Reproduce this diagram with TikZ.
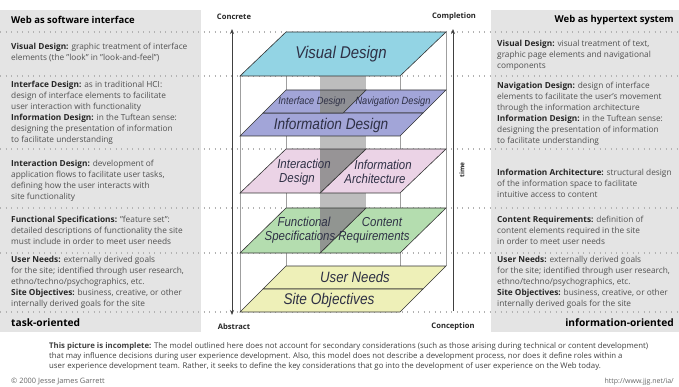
\documentclass[tikz,border=0pt]{standalone}
\usepackage{fontspec}
\setmainfont{Open Sans}
\newfontfamily\layerfont[FakeStretch=0.88]{Liberation Sans}
\usetikzlibrary{arrows.meta,calc,positioning}
\definecolor{panelgray}{HTML}{E4E4E4}
\definecolor{txtgray}{HTML}{505050}
\definecolor{bandgray}{HTML}{BDBDBD}
\definecolor{banddark}{HTML}{8E8E8E}
\definecolor{visblue}{HTML}{93D4E4}
\definecolor{infoblue}{HTML}{A2A5D8}
\definecolor{interpink}{HTML}{EBD3E6}
\definecolor{specgreen}{HTML}{B4DDAF}
\definecolor{needyellow}{HTML}{EEF0B8}
\definecolor{layertext}{HTML}{2E3045}

\begin{document}
\begin{tikzpicture}[x=1pt,y=-1pt,>=Stealth,font=\fontsize{8.3}{11}\selectfont,
  rowsep/.style={gray!60,line width=1.1pt,dash pattern=on 1.1pt off 4.4pt},
  desc/.style={anchor=west,align=left,inner sep=0pt,text=txtgray},
  head/.style={font=\fontsize{9.5}{11}\selectfont\bfseries,inner sep=0pt},
  axislbl/.style={font=\fontsize{7.6}{10}\selectfont\bfseries,inner sep=0pt,text=black!85},
  axisline/.style={black!75,line width=.9pt,arrows={-Stealth[length=5pt,width=4pt]}},
  boxline/.style={gray!75,line width=.9pt},
  tile/.style={draw=black!80,line width=.6pt},
  lbl/.style={font=\layerfont\itshape\fontsize{#1}{14}\selectfont,text=layertext,inner sep=0pt,align=center}]
\useasboundingbox (0,0) rectangle (679,387);
\fill[panelgray] (0,10) rectangle (201,332);
\fill[panelgray] (491,10) rectangle (679,332);
\foreach \y in {32,76,149,208,253,312}
  \draw[rowsep] (0,\y) -- (679,\y);

\fill[bandgray] (320,76) rectangle (366,253);
\draw[boxline] (240,76) -- (240,312);
\draw[boxline] (400,76) -- (400,312);
\draw[boxline] (286,76) -- (286,266);
\draw[boxline] (446,32) -- (446,266);

\filldraw[tile,fill=visblue] (286,32) -- (446,32) -- (400,76) -- (240,76) -- cycle;
\filldraw[tile,fill=infoblue] (366,90) -- (446,90) -- (423,113) -- (343,113) -- cycle;
\filldraw[tile,fill=infoblue] (263,113) -- (423,113) -- (400,136) -- (240,136) -- cycle;
\filldraw[tile,fill=interpink] (366,149) -- (446,149) -- (400,193) -- (320,193) -- cycle;
\filldraw[tile,fill=specgreen] (366,208) -- (446,208) -- (400,253) -- (320,253) -- cycle;
\filldraw[tile,fill=needyellow] (286,266) -- (446,266) -- (423,289) -- (263,289) -- cycle;
\filldraw[tile,fill=needyellow] (263,289) -- (423,289) -- (400,312) -- (240,312) -- cycle;
\foreach \t/\b/\xa/\xb/\c in {90/113/343/263/infoblue,149/193/320/240/interpink,208/253/320/240/specgreen}{
  \fill[\c] (286,\t) -- (366,\t) -- (\xa,\b) -- (\xb,\b) -- cycle;
  \begin{scope}
    \clip (286,\t) -- (366,\t) -- (\xa,\b) -- (\xb,\b) -- cycle;
    \fill[banddark,opacity=.9] (320,\t) rectangle (366,\b);
  \end{scope}
  \draw[tile] (286,\t) -- (366,\t) -- (\xa,\b) -- (\xb,\b) -- cycle;
}

\node[lbl=17] (visual) at (341,54) {Visual Design};
\node[lbl=10.5] (interface) at (312,102) {Interface Design};
\node[lbl=10.5] (navigation) at (393,102) {Navigation Design};
\node[lbl=15.5] (information) at (331,125) {Information Design};
\node[lbl=13] (interaction) at (304,172) {Interaction\\\hspace*{-14pt}Design};
\node[lbl=13] (architecture) at (383,172) {Information\\\hspace*{-16pt}Architecture};
\node[lbl=13] (functional) at (304,230) {Functional\\\hspace*{-8pt}Specifications};
\node[lbl=13] (content) at (382,230) {Content\\\hspace*{-16pt}Requirements};
\node[lbl=15] (needs) at (355,277) {User Needs};
\node[lbl=15.5] (objectives) at (329,300) {Site Objectives};

\node[axislbl] (concrete) at (234,17) {Concrete};
\node[axislbl] (abstract) at (234,327) {Abstract};
\node[axislbl] (completion) at (454,17) {Completion};
\node[axislbl] (conception) at (453,327) {Conception};
\node[axislbl,rotate=90,font=\fontsize{6.5}{8}\selectfont\bfseries] (time) at (462,170) {time};
\coordinate (ltop) at (232,29);
\coordinate (lbot) at (232,315);
\coordinate (rtop) at (453,29);
\coordinate (rbot) at (453,311);
\draw[axisline,arrows={Stealth[length=5pt,width=4pt]-Stealth[length=5pt,width=4pt]}] (ltop) -- (lbot);
\draw[axisline] (rbot) -- (rtop);

\node[head,anchor=west] (software) at (11,20) {Web as software interface};
\node[head,anchor=east] (hypertext) at (674,20) {Web as hypertext system};
\node[head,anchor=west,font=\fontsize{10.2}{11}\selectfont\bfseries] (task) at (11,323) {task-oriented};
\node[head,anchor=east,font=\fontsize{10.2}{11}\selectfont\bfseries] (infoor) at (674,323) {information-oriented};

\node[desc] (lvis) at (11,52) {\textbf{\color{black!85}Visual Design:} graphic treatment of interface\\elements (the "look" in "look-and-feel")};
\node[desc] (lint) at (11,113) {\textbf{\color{black!85}Interface Design:} as in traditional HCI:\\design of interface elements to facilitate\\user interaction with functionality\\\textbf{\color{black!85}Information Design:} in the Tuftean sense:\\designing the presentation of information\\to facilitate understanding};
\node[desc] (lact) at (11,181) {\textbf{\color{black!85}Interaction Design:} development of\\application flows to facilitate user tasks,\\defining how the user interacts with\\site functionality};
\node[desc] (lspec) at (11,230) {\textbf{\color{black!85}Functional Specifications:} "feature set":\\detailed descriptions of functionality the site\\must include in order to meet user needs};
\node[desc] (lneed) at (11,282) {\textbf{\color{black!85}User Needs:} externally derived goals\\for the site; identified through user research,\\ethno/techno/psychographics, etc.\\\textbf{\color{black!85}Site Objectives:} business, creative, or other\\internally derived goals for the site};

\node[desc] (rvis) at (497,55) {\textbf{\color{black!85}Visual Design:} visual treatment of text,\\graphic page elements and navigational\\components};
\node[desc] (rnav) at (497,114) {\textbf{\color{black!85}Navigation Design:} design of interface\\elements to facilitate the user's movement\\through the information architecture\\\textbf{\color{black!85}Information Design:} in the Tuftean sense:\\designing the presentation of information\\to facilitate understanding};
\node[desc] (rarch) at (497,183) {\textbf{\color{black!85}Information Architecture:} structural design\\of the information space to facilitate\\intuitive access to content};
\node[desc] (rcont) at (497,230) {\textbf{\color{black!85}Content Requirements:} definition of\\content elements required in the site\\in order to meet user needs};
\node[desc] (rneed) at (497,282) {\textbf{\color{black!85}User Needs:} externally derived goals\\for the site; identified through user research,\\ethno/techno/psychographics, etc.\\\textbf{\color{black!85}Site Objectives:} business, creative, or other\\internally derived goals for the site};

\node[anchor=north west,align=left,inner sep=0pt,text=black!75,font=\fontsize{7.8}{10.2}\selectfont] (note) at (49,342) {\textbf{This picture is incomplete:} The model outlined here does not account for secondary considerations (such as those arising during technical or content development)\\that may influence decisions during user experience development. Also, this model does not describe a development process, nor does it define roles within a\\user experience development team. Rather, it seeks to define the key considerations that go into the development of user experience on the Web today.};
\node[anchor=west,inner sep=0pt,text=black!60,font=\fontsize{7.4}{8}\selectfont] (copy) at (11,382) {© 2000 Jesse James Garrett};
\node[anchor=east,inner sep=0pt,text=black!60,font=\fontsize{7}{8}\selectfont] (url) at (674,382) {http://www.jjg.net/ia/};
\end{tikzpicture}
\end{document}
